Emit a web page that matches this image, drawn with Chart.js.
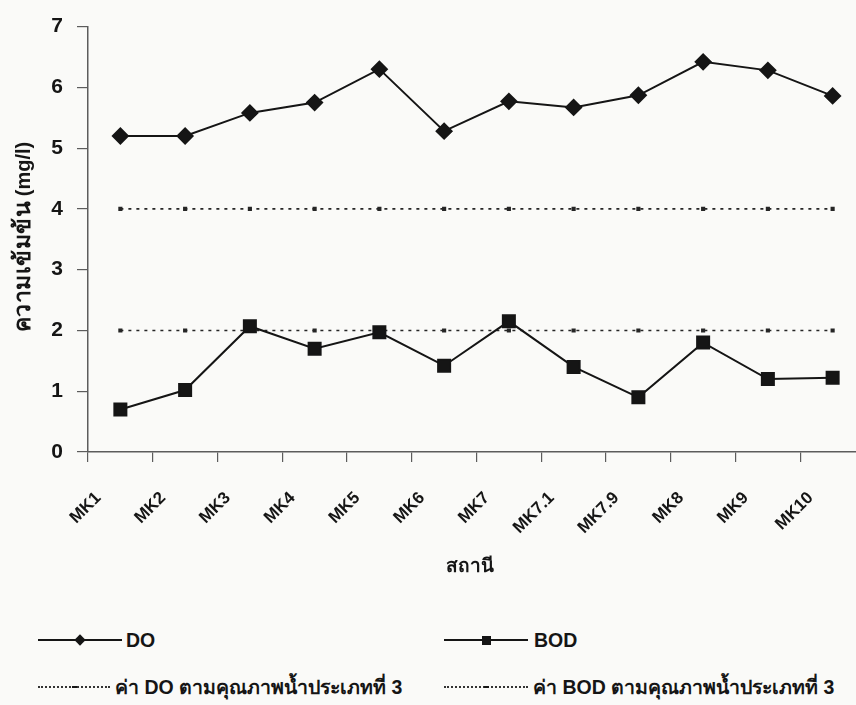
<!DOCTYPE html>
<html>
<head>
<meta charset="utf-8">
<script src="https://cdn.jsdelivr.net/npm/chart.js@4.4.1/dist/chart.umd.min.js"></script>
<style>
  body{margin:0;width:856px;height:705px;overflow:hidden;background:#fafaf8;position:relative;
       font-family:'Liberation Sans',Arial,sans-serif;color:#151515}
  #wrap{position:absolute;left:0;top:0;width:880px;height:560px}
  #ytitle{position:absolute;left:-78px;top:222px;width:200px;height:30px;line-height:30px;text-align:center;
          transform:rotate(-90deg);font-weight:bold;white-space:nowrap}
  #ytitle .th{font-size:23px;letter-spacing:0.5px}
  #ytitle .un{font-size:20px}
  #xtitle{position:absolute;left:370px;width:200px;top:550px;text-align:center;font-weight:bold;font-size:19px}
  .lg{position:absolute;display:flex;align-items:center;height:26px}
  .lg .smp{position:relative;display:inline-block;height:0}
  .lg .smp.solid{border-top:2px solid #151515}
  .lg .smp.dot{border-top:2px dotted #333}
  .lg .mk{position:absolute;left:50%;background:#151515}
  .lg .txt{font-weight:bold;font-size:19.5px;white-space:nowrap}
</style>
</head>
<body>
<div id="wrap"><canvas id="c"></canvas></div>
<div id="ytitle"><span class="th">ความเข้มข้น</span> <span class="un">(mg/l)</span></div>
<div id="xtitle">สถานี</div>
<div id="legend"></div>
<script>
// stations along the river and measured concentrations (mg/l)
const stations = ['MK1','MK2','MK3','MK4','MK5','MK6','MK7','MK7.1','MK7.9','MK8','MK9','MK10'];
const doValues  = [5.2, 5.2, 5.58, 5.75, 6.3, 5.28, 5.77, 5.67, 5.87, 6.42, 6.28, 5.86];
const bodValues = [0.7, 1.02, 2.07, 1.7, 1.97, 1.42, 2.15, 1.4, 0.9, 1.8, 1.2, 1.22];
// surface water quality standard, class 3
const doStandard  = [4, 4, 4, 4, 4, 4, 4, 4, 4, 4, 4, 4];
const bodStandard = [2, 2, 2, 2, 2, 2, 2, 2, 2, 2, 2, 2];
const yTicks = [0, 1, 2, 3, 4, 5, 6, 7];

const INK = '#151515';
const AXIS = '#5c5c5c';
const FONT = "'Liberation Sans', Arial, sans-serif";

const datasets = [
  {label:'DO', data:doValues, borderColor:INK, backgroundColor:INK, borderWidth:2,
   pointStyle:'rectRot', pointRadius:7.5, pointHoverRadius:7.5, tension:0},
  {label:'BOD', data:bodValues, borderColor:INK, backgroundColor:INK, borderWidth:2,
   pointStyle:'rect', pointRadius:8.5, pointHoverRadius:8.5, tension:0},
  {label:'ค่า DO ตามคุณภาพน้ำประเภทที่ 3', data:doStandard, borderColor:'#262626', backgroundColor:'#262626',
   borderWidth:1.6, borderDash:[3,5], pointStyle:'rect', pointRadius:1.8, tension:0},
  {label:'ค่า BOD ตามคุณภาพน้ำประเภทที่ 3', data:bodStandard, borderColor:'#262626', backgroundColor:'#262626',
   borderWidth:1.6, borderDash:[3,5], pointStyle:'rect', pointRadius:1.8, tension:0}
];

const chart = new Chart(document.getElementById('c'), {
  type:'line',
  data:{ labels:stations, datasets },
  options:{
    responsive:true, maintainAspectRatio:false, animation:false,
    layout:{ padding:{ top:17, right:15, left:0, bottom:0 } },
    plugins:{ legend:{display:false}, tooltip:{enabled:false} },
    scales:{
      x:{
        offset:true,
        grid:{ offset:true, drawOnChartArea:false, tickLength:10, color:AXIS, lineWidth:1.2 },
        border:{ color:AXIS, width:1.5 },
        ticks:{ minRotation:45, maxRotation:45, autoSkip:false, labelOffset:-22, padding:26,
                color:INK, font:{ family:FONT, size:17, weight:'bold' } },
        afterFit: s => { s.height = 108; }
      },
      y:{
        min:yTicks[0], max:yTicks[yTicks.length-1],
        grid:{ drawOnChartArea:false, tickLength:11, color:AXIS, lineWidth:1.2 },
        border:{ color:AXIS, width:1.5 },
        ticks:{ stepSize:1, padding:14, color:INK, font:{ family:FONT, size:21, weight:'bold' } },
        afterFit: s => { s.width = 88; }
      }
    }
  }
});

// legend: two columns, two rows, built from the datasets
const legendSlots = [
  {left:38, top:627, line:84, gap:4},
  {left:444, top:627, line:84, gap:6},
  {left:38, top:674, line:72, gap:5},
  {left:444, top:674, line:84, gap:5}
];
const legendEl = document.getElementById('legend');
chart.data.datasets.forEach((ds, i) => {
  const slot = legendSlots[i];
  const item = document.createElement('div');
  item.className = 'lg';
  item.style.left = slot.left + 'px';
  item.style.top = slot.top + 'px';
  const smp = document.createElement('span');
  smp.className = 'smp ' + (ds.borderDash ? 'dot' : 'solid');
  smp.style.width = slot.line + 'px';
  const mk = document.createElement('i');
  mk.className = 'mk';
  if (ds.pointStyle === 'rectRot'){
    mk.style.cssText += 'width:8px;height:8px;margin-left:-4px;top:-5px;transform:rotate(45deg)';
  } else if (ds.borderDash){
    mk.style.cssText += 'width:5px;height:2px;margin-left:-2px;top:-2px';
  } else {
    mk.style.cssText += 'width:9px;height:9px;margin-left:-4px;top:-5.5px';
  }
  smp.appendChild(mk);
  const txt = document.createElement('span');
  txt.className = 'txt';
  txt.style.marginLeft = slot.gap + 'px';
  txt.textContent = ds.label;
  item.appendChild(smp);
  item.appendChild(txt);
  legendEl.appendChild(item);
});
</script>
</body>
</html>
